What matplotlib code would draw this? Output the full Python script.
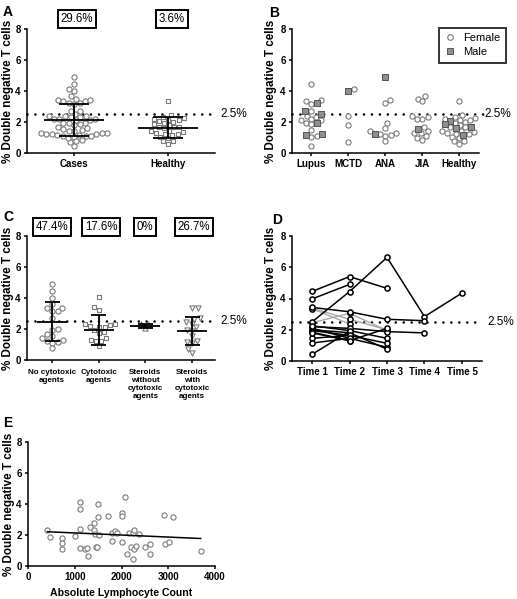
import numpy as np
import matplotlib
matplotlib.use('Agg')
import matplotlib.pyplot as plt
from matplotlib.lines import Line2D
from matplotlib.transforms import blended_transform_factory as blend

plt.rcParams['font.family'] = ['Liberation Sans', 'DejaVu Sans']

# ---------------- DATA ----------------
# Panel B (cases by diagnosis, split by sex); panel A uses the pooled values
b_groups = ['Lupus', 'MCTD', 'ANA', 'JIA', 'Healthy']
lupus_f = [4.45, 3.43, 3.33, 3.18, 2.73, 2.4, 2.35, 2.2, 2.15, 2.1, 1.95, 1.85, 1.46, 1.1, 1.05, 0.43]
lupus_m = [3.22, 2.73, 2.53, 1.95, 1.25, 1.15]
mctd_f = [4.12, 2.4, 1.82, 0.69]
mctd_m = [4.03]
ana_f = [3.39, 3.22, 1.93, 1.6, 1.44, 1.3, 1.25, 1.18, 1.12, 0.75]
ana_m = [4.93, 1.25]
jia_f = [3.65, 3.5, 3.33, 2.36, 2.3, 2.19, 2.19, 1.65, 1.44, 1.29, 1.29, 1.12, 1.0, 0.86]
jia_m = [1.57]
healthy_f = [3.37, 2.47, 2.3, 2.25, 2.2, 2.15, 2.1, 2.0, 1.95, 1.8, 1.7, 1.65, 1.45, 1.4,
             1.35, 1.3, 1.25, 1.2, 1.05, 0.95, 0.8, 0.75, 0.6]
healthy_m = [2.05, 1.85, 1.7, 1.6, 1.15]

# Panel A
a_groups = ['Cases', 'Healthy']
a_pct = ['29.6%', '3.6%']
a_mean = [2.13, 1.63]
a_low = [1.12, 0.99]
a_high = [3.16, 2.34]

# Panel C (treatment)
c_groups = ['No cytotoxic\nagents', 'Cytotoxic\nagents', 'Steroids\nwithout\ncytotoxic\nagents',
            'Steroids\nwith\ncytotoxic\nagents']
c_pct = ['47.4%', '17.6%', '0%', '26.7%']
c_no_cyto = [4.89, 4.44, 3.97, 3.6, 3.37, 3.33, 3.15, 3.15, 2.73, 1.97, 1.93, 1.65, 1.57, 1.39,
             1.3, 1.22, 1.18, 1.1, 0.75]
c_cyto = [4.08, 3.45, 3.25, 2.3, 2.3, 2.25, 2.2, 2.15, 2.1, 1.95, 1.8, 1.75, 1.4, 1.3, 1.25, 1.2, 0.9]
c_ster_wo = [2.35, 2.3, 2.05]
c_ster_w = [3.33, 3.33, 2.7, 2.65, 2.45, 2.35, 2.15, 1.95, 1.9, 1.55, 1.2, 1.15, 1.1, 0.7, 0.45]
c_mean = [2.47, 1.93, 2.2, 1.89]
c_low = [1.23, 0.97, 2.05, 0.97]
c_high = [3.72, 2.9, 2.35, 2.8]

# Panel D (longitudinal, Time 1..5); nan = not measured
d_times = ['Time 1', 'Time 2', 'Time 3', 'Time 4', 'Time 5']
nan = np.nan
d_black = [
    [4.45, 5.4, 4.65, nan, nan],
    [3.97, 4.9, nan, nan, nan],
    [2.5, 4.44, 6.63, 2.84, 4.35],
    [0.42, 1.9, nan, nan, nan],
    [3.43, 3.15, 2.67, 2.58, nan],
    [2.2, 2.09, 1.88, 1.8, nan],
    [2.1, 1.45, 0.88, nan, nan],
    [2.0, 1.81, 0.76, nan, nan],
    [1.95, 1.64, 1.13, nan, nan],
    [1.85, 1.3, 2.09, nan, nan],
    [2.25, 1.95, 1.45, nan, nan],
    [1.45, 1.64, nan, nan, nan],
    [1.15, 1.45, nan, nan, nan],
    [1.8, 1.3, nan, nan, nan],
]
d_gray = [
    [3.38, 2.67, 2.0, nan, nan],
    [2.45, 3.05, 1.95, nan, nan],
    [3.35, 2.37, nan, nan, nan],
]

# Panel E (absolute lymphocyte count vs DN T cells)
e_alc = [414, 479, 721, 736, 736, 1007, 1114, 1107, 1107, 1107, 1214, 1264, 1286, 1321, 1407,
         1407, 1429, 1450, 1479, 1507, 1507, 1514, 1707, 1800, 1807, 1871, 1907, 2000, 2000,
         2007, 2071, 2107, 2157, 2200, 2236, 2250, 2271, 2271, 2307, 2364, 2500, 2607, 2607,
         2907, 2921, 3007, 3100, 3693]
e_dn = [2.32, 1.87, 1.82, 1.46, 1.07, 1.95, 4.12, 3.65, 2.36, 1.18, 1.09, 1.18, 0.67, 2.53, 2.75,
        2.32, 2.04, 1.24, 1.24, 3.99, 3.18, 2.0, 3.22, 2.15, 1.63, 2.27, 2.15, 3.39, 3.22,
        1.57, 4.46, 0.77, 2.15, 1.24, 0.43, 2.1, 2.32, 1.09, 1.29, 2.04, 1.24, 1.4, 0.77,
        3.28, 1.4, 1.57, 3.13, 0.99]

threshold = 2.5
ylabel = '% Double negative T cells'

# ---------------- LAYOUT / STYLE ----------------
W, H = 517, 599
fig = plt.figure(figsize=(W / 100, H / 100), dpi=100)

GRAY_EDGE = '#7a7a7a'
MALE_FACE = '#8f8f8f'
MALE_EDGE = '#555555'


def add_ax(l, t, r, b):
    return fig.add_axes([l / W, 1 - b / H, (r - l) / W, (b - t) / H])


def style(ax, lab_x_px):
    for s in ['top', 'right']:
        ax.spines[s].set_visible(False)
    for s in ['left', 'bottom']:
        ax.spines[s].set_linewidth(1.1)
    ax.tick_params(width=1.1, length=2.5, labelsize=7, pad=2)
    ax.set_ylim(0, 8)
    ax.set_yticks([0, 2, 4, 6, 8])
    plt.setp(ax.get_yticklabels(), fontweight='bold')
    plt.setp(ax.get_xticklabels(), fontweight='bold')
    ax.set_ylabel(ylabel, fontsize=8.4, fontweight='bold')
    w = ax.get_position().width * W
    ax.yaxis.set_label_coords(lab_x_px / w, 0.5)


def thresh(ax, xmax=1.0, label=True):
    tr = blend(ax.transAxes, ax.transData)
    ax.plot([0, xmax], [threshold, threshold], transform=tr, color='black', lw=1.9,
            linestyle=(0, (0.01, 3.0)), dash_capstyle='round', clip_on=False, zorder=1)
    if label:
        ax.text(1.03, threshold, '2.5%', transform=tr, ha='left', va='center', fontsize=8.5)


def swarm_offsets(vals, ppy, d=5.4, step=0.25):
    vals = np.asarray(vals, float)
    ys = vals * ppy
    order = np.argsort(vals, kind='stable')
    offs = np.zeros(len(vals))
    pxs, pys = [], []
    for n, i in enumerate(order):
        sides = (1, -1) if n % 2 == 0 else (-1, 1)
        found = None
        k = 0
        while found is None:
            for s in sides:
                o = s * k * step
                if all((o - a) ** 2 + (ys[i] - b) ** 2 >= d * d for a, b in zip(pxs, pys)):
                    found = o
                    break
            k += 1
        offs[i] = found
        pxs.append(found)
        pys.append(ys[i])
    return offs


def errbar(ax, x, m, lo, hi, half_mean, half_cap):
    kw = dict(color='black', lw=1.3, zorder=5, solid_capstyle='butt')
    ax.plot([x - half_mean, x + half_mean], [m, m], **kw)
    ax.plot([x, x], [lo, hi], **kw)
    ax.plot([x - half_cap, x + half_cap], [lo, lo], **kw)
    ax.plot([x - half_cap, x + half_cap], [hi, hi], **kw)


def box_text(xpx, ypx, s):
    fig.text(xpx / W, 1 - ypx / H, s, ha='center', va='center', fontsize=8.3,
             bbox=dict(boxstyle='square,pad=0.24', fc='white', ec='black', lw=1.4))


def panel_letter(xpx, ypx, s):
    fig.text(xpx / W, 1 - ypx / H, s, ha='center', va='center', fontsize=10, fontweight='bold')


PPY = 124 / 8.0

# ---------------- Panel A ----------------
axA = add_ax(27, 29, 215, 153)
axA.set_xlim(-0.5, 1.5)
ppxA = 188 / 2.0
cases = lupus_f + lupus_m + mctd_f + mctd_m + ana_f + ana_m + jia_f + jia_m
healthy = healthy_f + healthy_m
thresh(axA)
for i, (vals, mk) in enumerate([(cases, 'o'), (healthy, 's')]):
    xs = i + swarm_offsets(vals, PPY) / ppxA
    axA.scatter(xs, vals, s=14 if mk == 'o' else 12, marker=mk, facecolors='white',
                edgecolors=GRAY_EDGE, linewidths=0.8, zorder=3, clip_on=False)
    errbar(axA, i, a_mean[i], a_low[i], a_high[i], 30 / ppxA, 15 / ppxA)
axA.set_xticks([0, 1])
axA.set_xticklabels(a_groups)
style(axA, -13)
box_text(77, 19, a_pct[0])
box_text(172, 19, a_pct[1])
panel_letter(8, 12, 'A')

# ---------------- Panel B ----------------
axB = add_ax(292, 29, 479, 153)
ppxB = 36.9
axB.set_xlim(-19.4 / ppxB, (479 - 311.7) / ppxB)
thresh(axB, 1.02)
b_f = [lupus_f, mctd_f, ana_f, jia_f, healthy_f]
b_m = [lupus_m, mctd_m, ana_m, jia_m, healthy_m]
for i in range(5):
    vals = b_f[i] + b_m[i]
    xs = i + swarm_offsets(vals, PPY) / ppxB
    nf = len(b_f[i])
    axB.scatter(xs[:nf], b_f[i], s=14, marker='o', facecolors='white', edgecolors=GRAY_EDGE,
                linewidths=0.8, zorder=3)
    axB.scatter(xs[nf:], b_m[i], s=13, marker='s', facecolors=MALE_FACE, edgecolors=MALE_EDGE,
                linewidths=0.7, zorder=4)
axB.set_xticks(range(5))
axB.set_xticklabels(b_groups)
style(axB, -15)
handles = [Line2D([], [], marker='o', ls='none', ms=4, mfc='white', mec=GRAY_EDGE, mew=0.8),
           Line2D([], [], marker='s', ls='none', ms=4, mfc=MALE_FACE, mec=MALE_EDGE, mew=0.7)]
leg = axB.legend(handles, ['Female', 'Male'], loc='upper right', bbox_to_anchor=(1.145, 1.01),
                 fontsize=8, frameon=True, fancybox=False, edgecolor='black', handlelength=1.0,
                 handletextpad=0.7, borderpad=0.5, labelspacing=0.35, borderaxespad=0)
leg.get_frame().set_linewidth(1.4)
panel_letter(274, 13, 'B')

# ---------------- Panel C ----------------
axC = add_ax(27, 236, 215, 360)
ppxC = 46.7
axC.set_xlim(-25 / ppxC, (215 - 52) / ppxC)
c_pos = np.arange(len(c_groups))
thresh(axC)
c_vals = [c_no_cyto, c_cyto, c_ster_wo, c_ster_w]
c_mk = ['o', 's', '^', 'v']
c_sz = [14, 12, 14, 14]
for i in range(4):
    xs = c_pos[i] + swarm_offsets(c_vals[i], PPY) / ppxC
    axC.scatter(xs, c_vals[i], s=c_sz[i], marker=c_mk[i], facecolors='white',
                edgecolors=GRAY_EDGE, linewidths=0.8, zorder=3)
    errbar(axC, c_pos[i], c_mean[i], c_low[i], c_high[i], 15 / ppxC, 7.5 / ppxC)
axC.set_xticks(c_pos)
axC.set_xticklabels(c_groups, fontsize=5.8, linespacing=1.2)
style(axC, -13)
axC.tick_params(axis='x', labelsize=5.8, pad=4)
box_text(52, 227, c_pct[0])
box_text(101, 227, c_pct[1])
box_text(145, 227, c_pct[2])
box_text(194, 227, c_pct[3])
panel_letter(8, 217, 'C')

# ---------------- Panel D ----------------
axD = add_ax(292, 236, 482, 361)
ppxD = 37.5
axD.set_xlim(-20 / ppxD, (482 - 312) / ppxD)
thresh(axD, 0.97)
tpos = np.arange(len(d_times))
for row in d_gray:
    axD.plot(tpos, row, color='#a8a8a8', lw=1.0, zorder=2)
for row in d_black:
    axD.plot(tpos, row, color='black', lw=1.1, zorder=3)
for row in d_gray + d_black:
    axD.plot(tpos, row, ls='none', marker='o', ms=3.7, mfc='white', mec='black', mew=1.1,
             zorder=4)
axD.set_xticks(tpos)
axD.set_xticklabels(d_times)
style(axD, -15)
panel_letter(277, 220, 'D')

# ---------------- Panel E ----------------
axE = add_ax(28, 442, 215, 566)
axE.set_xlim(0, 4000)
axE.scatter(e_alc, e_dn, s=14, marker='o', facecolors='white', edgecolors=GRAY_EDGE,
            linewidths=0.8, zorder=3)
slope, icpt = np.polyfit(e_alc, e_dn, 1)
xf = np.array([min(e_alc), max(e_alc)])
axE.plot(xf, slope * xf + icpt, color='black', lw=1.1, zorder=4)
axE.set_xticks([0, 1000, 2000, 3000, 4000])
style(axE, -13)
axE.set_xlabel('Absolute Lymphocyte Count', fontsize=7.6, fontweight='bold', labelpad=4)
panel_letter(8, 423, 'E')

fig.savefig('out.png', dpi=100)
